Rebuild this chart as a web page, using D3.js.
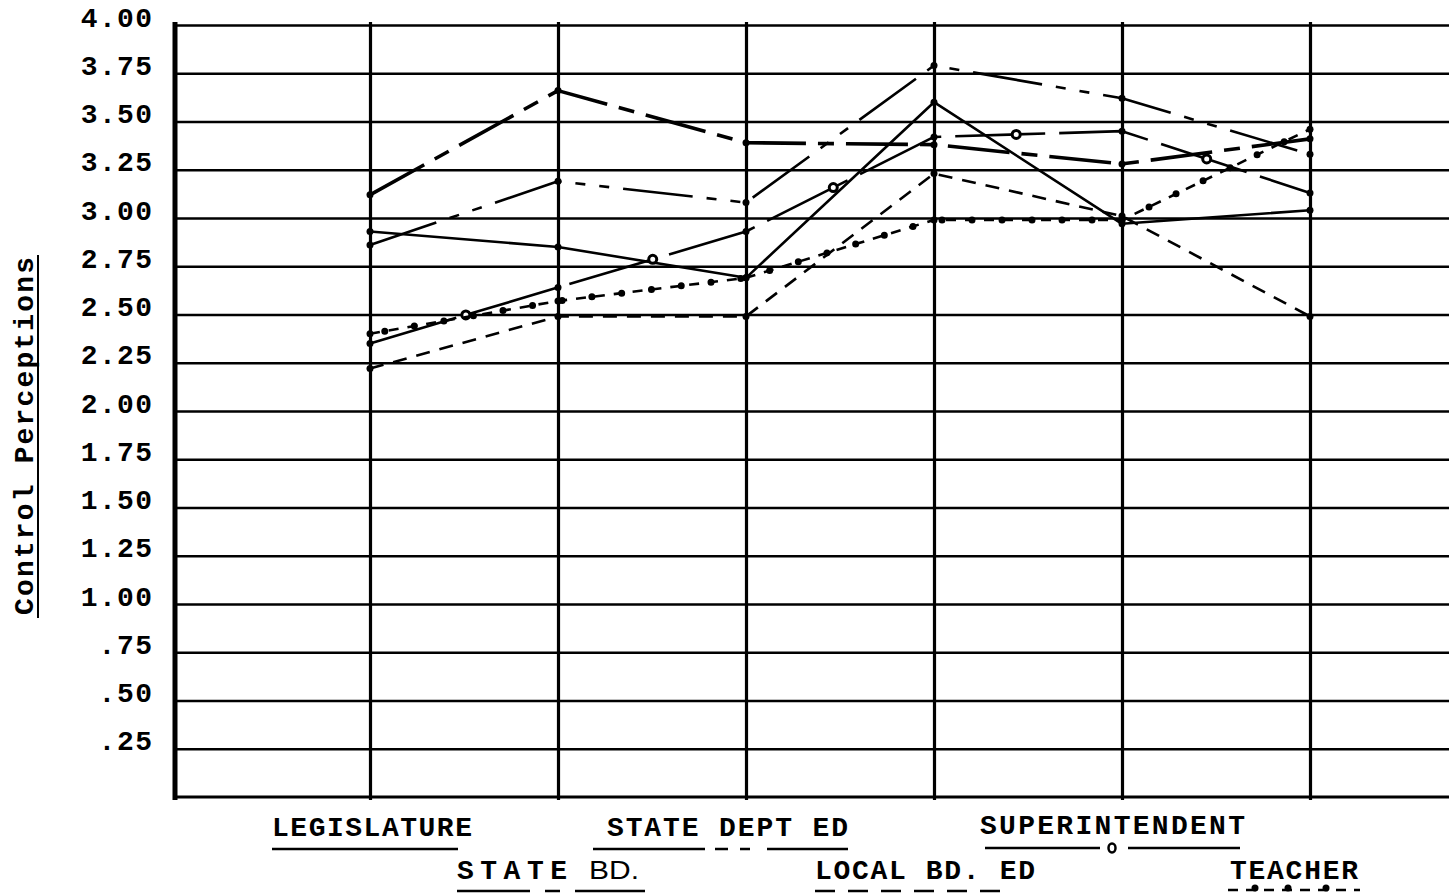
<!DOCTYPE html>
<html><head><meta charset="utf-8">
<script src="https://cdn.jsdelivr.net/npm/d3@7"></script>
<style>body{margin:0;background:#fff}</style>
</head><body><svg id="c" width="1449" height="894"></svg>
<script>
// ---------- data ----------
const xPositions = [1, 2, 3, 4, 5, 6];
const yTicks = [0.25, 0.5, 0.75, 1, 1.25, 1.5, 1.75, 2, 2.25, 2.5, 2.75, 3, 3.25, 3.5, 3.75, 4];
const yTickLabels = [".25", ".50", ".75", "1.00", "1.25", "1.50", "1.75", "2.00", "2.25", "2.50", "2.75", "3.00", "3.25", "3.50", "3.75", "4.00"];
const seriesNames = ["LEGISLATURE", "STATE BD.", "STATE DEPT ED", "LOCAL BD. ED", "SUPERINTENDENT", "TEACHER"];
const legislature    = [2.93, 2.85, 2.69, 3.60, 2.97, 3.04];
const stateBd        = [3.12, 3.66, 3.39, 3.38, 3.28, 3.41];
const stateDeptEd    = [2.86, 3.19, 3.08, 3.79, 3.62, 3.33];
const localBdEd      = [2.22, 2.49, 2.49, 3.23, 3.01, 2.49];
const superintendent = [2.35, 2.64, 2.93, 3.42, 3.45, 3.13];
const teacher        = [2.40, 2.57, 2.69, 2.99, 2.99, 3.46];
const yTitle = "Control Perceptions";

// ---------- layout ----------
const svg = d3.select("#c");
const L = 175, T = 25, B = 797, R = 1449;
const y = d3.scaleLinear().domain([0, 4]).range([B, T]);
const x = d3.scaleLinear().domain([1, 6]).range([370, 1310]);
const MONO = "'Liberation Mono','DejaVu Sans Mono',monospace";

// horizontal grid + labels
const gy = svg.append("g").attr("transform", `translate(${L},0)`)
  .call(d3.axisLeft(y).tickValues(yTicks).tickSize(-(R - L)).tickPadding(23)
    .tickFormat((d, i) => yTickLabels[i]));
gy.select(".domain").remove();
gy.selectAll(".tick line").attr("stroke", "#000").attr("stroke-width", 2.4);
gy.selectAll(".tick text").attr("fill", "#000").attr("font-family", MONO)
  .attr("font-weight", "bold").attr("font-size", 28).attr("dy", 1)
  .attr("textLength", function () { return this.textContent.length * 17.8; })
  .attr("lengthAdjust", "spacing");

// bottom line
svg.append("line").attr("x1", L).attr("x2", R).attr("y1", y(0)).attr("y2", y(0))
  .attr("stroke", "#000").attr("stroke-width", 3);

// vertical lines
const gx = svg.append("g").attr("transform", `translate(0,${B + 3})`)
  .call(d3.axisBottom(x).tickValues(xPositions).tickSize(-(B - T + 6)).tickFormat(""));
gx.select(".domain").remove();
gx.selectAll(".tick line").attr("stroke", "#000").attr("stroke-width", 3.2);

// left axis
svg.append("line").attr("x1", L).attr("x2", L).attr("y1", T - 3).attr("y2", B + 3)
  .attr("stroke", "#000").attr("stroke-width", 5);

// ---------- series ----------
const styles = {
  "LEGISLATURE":    { dash: null,               w: 2.6 },
  "STATE BD.":      { dash: "62 12 16 12",      w: 3.6 },
  "STATE DEPT ED":  { dash: "70 14 10 14 10 14", w: 2.6 },
  "LOCAL BD. ED":   { dash: "14 10",            w: 2.6 },
  "SUPERINTENDENT": { dash: "90 14",            w: 2.6, rings: true },
  "TEACHER":        { dash: "10 9",             w: 2.6, dots: true }
};
const seriesValues = [legislature, stateBd, stateDeptEd, localBdEd, superintendent, teacher];
const line = d3.line().x((d, i) => x(xPositions[i])).y(d => y(d));

seriesNames.forEach((name, k) => {
  const st = styles[name];
  const vals = seriesValues[k];
  const p = svg.append("path").datum(vals).attr("d", line)
    .attr("fill", "none").attr("stroke", "#000").attr("stroke-width", st.w)
    .attr("stroke-linejoin", "round");
  if (st.dash) p.attr("stroke-dasharray", st.dash);
  if (st.dots) {
    svg.append("path").datum(vals).attr("d", line).attr("fill", "none")
      .attr("stroke", "#000").attr("stroke-width", 7).attr("stroke-linecap", "round")
      .attr("stroke-dasharray", "0 30").attr("stroke-dashoffset", -15);
  }
  if (st.rings) {
    svg.append("path").datum(vals).attr("d", line).attr("fill", "none")
      .attr("stroke", "#000").attr("stroke-width", 11).attr("stroke-linecap", "round")
      .attr("stroke-dasharray", "0 195").attr("stroke-dashoffset", -100);
    svg.append("path").datum(vals).attr("d", line).attr("fill", "none")
      .attr("stroke", "#fff").attr("stroke-width", 5).attr("stroke-linecap", "round")
      .attr("stroke-dasharray", "0 195").attr("stroke-dashoffset", -100);
  }
  svg.append("g").selectAll("circle").data(vals).join("circle")
    .attr("cx", (d, i) => x(xPositions[i])).attr("cy", d => y(d)).attr("r", 3.5).attr("fill", "#000");
});

// ---------- y title ----------
svg.append("text").attr("transform", "translate(33,436) rotate(-90)")
  .attr("text-anchor", "middle").attr("font-family", MONO).attr("font-size", 28)
  .attr("font-weight", "bold")
  .attr("fill", "#000").attr("textLength", 358).attr("lengthAdjust", "spacing")
  .text(yTitle);
svg.append("line").attr("x1", 38).attr("x2", 38).attr("y1", 255).attr("y2", 618)
  .attr("stroke", "#000").attr("stroke-width", 2);

// ---------- legend ----------
const legend = [
  { name: "LEGISLATURE",    tx: 272, ty: 836, tw: 200, lx1: 272, lx2: 458, ly: 849, dash: null },
  { name: "STATE DEPT ED",  tx: 607, ty: 836, tw: 241, lx1: 593, lx2: 848, ly: 849, dash: "112 10 13 12 10 17 81" },
  { name: "SUPERINTENDENT", tx: 980, ty: 834, tw: 265, lx1: 985, lx2: 1240, ly: 848, dash: "115 28 112", ring: 1112 },
  { name: "STATE BD.",      tx: 457, ty: 879, tw: 110, lx1: 457, lx2: 645, ly: 891, dash: "73 15 15 15 70" },
  { name: "LOCAL BD. ED",   tx: 815, ty: 879, tw: 220, lx1: 815, lx2: 1002, ly: 891, dash: "20 13" },
  { name: "TEACHER",        tx: 1230, ty: 879, tw: 128, lx1: 1228, lx2: 1360, ly: 890, dash: "10 8", dots: [1255, 1288, 1326] }
];
legend.forEach(e => {
  if (e.name === "STATE BD.") {
    svg.append("text").attr("x", e.tx).attr("y", e.ty).attr("font-family", MONO)
      .attr("font-weight", "bold").attr("font-size", 28).attr("fill", "#000")
      .attr("textLength", 110).attr("lengthAdjust", "spacing").text("STATE");
    svg.append("text").attr("x", 589).attr("y", e.ty).attr("font-family", "'Liberation Sans Narrow','Liberation Sans',sans-serif")
      .attr("font-size", 26).attr("fill", "#000").attr("textLength", 50).attr("lengthAdjust", "spacingAndGlyphs").text("BD.");
  } else {
    svg.append("text").attr("x", e.tx).attr("y", e.ty).attr("font-family", MONO)
      .attr("font-weight", "bold").attr("font-size", 28).attr("fill", "#000")
      .attr("textLength", e.tw).attr("lengthAdjust", "spacing").text(e.name);
  }
  const l = svg.append("line").attr("x1", e.lx1).attr("x2", e.lx2).attr("y1", e.ly).attr("y2", e.ly)
    .attr("stroke", "#000").attr("stroke-width", 2.4);
  if (e.dash) l.attr("stroke-dasharray", e.dash);
  if (e.ring) {
    svg.append("ellipse").attr("cx", e.ring).attr("cy", e.ly).attr("rx", 3.5).attr("ry", 4.5)
      .attr("fill", "none").attr("stroke", "#000").attr("stroke-width", 2.5);
  }
  if (e.dots) {
    e.dots.forEach(cx => svg.append("circle").attr("cx", cx).attr("cy", e.ly - 2).attr("r", 3.5).attr("fill", "#000"));
  }
});
</script>
</body></html>
